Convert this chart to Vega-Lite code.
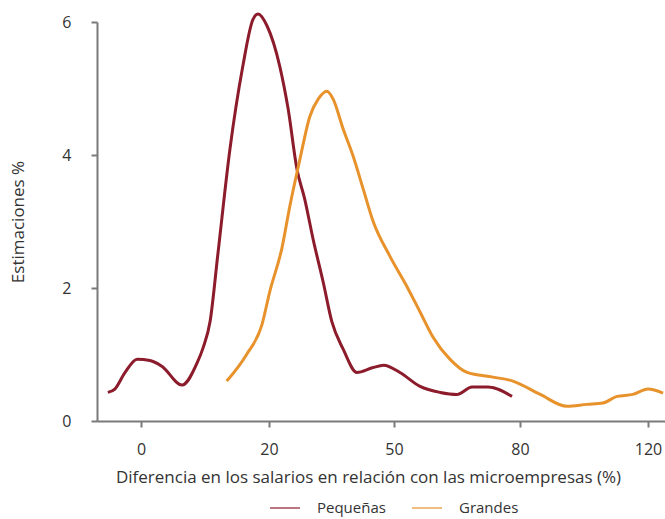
{
  "$schema": "https://vega.github.io/schema/vega-lite/v6.json",
  "width": 568,
  "height": 399,
  "autosize": {"type": "none"},
  "padding": {"left": 97, "top": 22, "right": 0, "bottom": 98},
  "background": "white",
  "config": {
    "view": {"stroke": null},
    "font": "Open Sans",
    "axis": {
      "grid": false,
      "domainColor": "#7a7a7a",
      "domainWidth": 2,
      "tickColor": "#7a7a7a",
      "tickWidth": 2,
      "tickSize": 6,
      "labelColor": "#333333",
      "labelFontSize": 16,
      "titleColor": "#333333",
      "titleFontSize": 17,
      "titleFontWeight": "normal"
    }
  },
  "data": {
    "values": [
      {"serie": "Pequeñas", "x": -5.2, "y": 0.43},
      {"serie": "Pequeñas", "x": -4.1, "y": 0.48},
      {"serie": "Pequeñas", "x": -2.5, "y": 0.73},
      {"serie": "Pequeñas", "x": -0.6, "y": 0.93},
      {"serie": "Pequeñas", "x": 1.4, "y": 0.91},
      {"serie": "Pequeñas", "x": 3.3, "y": 0.82},
      {"serie": "Pequeñas", "x": 6.4, "y": 0.54},
      {"serie": "Pequeñas", "x": 8.8, "y": 0.88},
      {"serie": "Pequeñas", "x": 9.7, "y": 1.1},
      {"serie": "Pequeñas", "x": 10.8, "y": 1.5},
      {"serie": "Pequeñas", "x": 12.0, "y": 2.5},
      {"serie": "Pequeñas", "x": 13.9, "y": 4.09},
      {"serie": "Pequeñas", "x": 15.9, "y": 5.33},
      {"serie": "Pequeñas", "x": 17.5, "y": 6.04},
      {"serie": "Pequeñas", "x": 18.3, "y": 6.12},
      {"serie": "Pequeñas", "x": 19.7, "y": 5.94},
      {"serie": "Pequeñas", "x": 22.6, "y": 5.33},
      {"serie": "Pequeñas", "x": 24.6, "y": 4.69},
      {"serie": "Pequeñas", "x": 26.7, "y": 3.79},
      {"serie": "Pequeñas", "x": 28.6, "y": 3.33},
      {"serie": "Pequeñas", "x": 30.6, "y": 2.73},
      {"serie": "Pequeñas", "x": 33.0, "y": 2.09},
      {"serie": "Pequeñas", "x": 35.1, "y": 1.49},
      {"serie": "Pequeñas", "x": 37.8, "y": 1.08},
      {"serie": "Pequeñas", "x": 41.1, "y": 0.73},
      {"serie": "Pequeñas", "x": 44.8, "y": 0.8},
      {"serie": "Pequeñas", "x": 47.5, "y": 0.84},
      {"serie": "Pequeñas", "x": 51.4, "y": 0.73},
      {"serie": "Pequeñas", "x": 56.2, "y": 0.52},
      {"serie": "Pequeñas", "x": 61.0, "y": 0.43},
      {"serie": "Pequeñas", "x": 65.0, "y": 0.4},
      {"serie": "Pequeñas", "x": 68.6, "y": 0.51},
      {"serie": "Pequeñas", "x": 72.4, "y": 0.51},
      {"serie": "Pequeñas", "x": 78.1, "y": 0.37},
      {"serie": "Grandes", "x": 13.4, "y": 0.6},
      {"serie": "Grandes", "x": 16.5, "y": 1.0},
      {"serie": "Grandes", "x": 18.9, "y": 1.45},
      {"serie": "Grandes", "x": 20.2, "y": 1.95},
      {"serie": "Grandes", "x": 23.1, "y": 2.6},
      {"serie": "Grandes", "x": 25.0, "y": 3.23},
      {"serie": "Grandes", "x": 27.4, "y": 3.93},
      {"serie": "Grandes", "x": 29.8, "y": 4.58},
      {"serie": "Grandes", "x": 31.8, "y": 4.84},
      {"serie": "Grandes", "x": 33.9, "y": 4.96},
      {"serie": "Grandes", "x": 35.4, "y": 4.84},
      {"serie": "Grandes", "x": 37.8, "y": 4.39},
      {"serie": "Grandes", "x": 40.2, "y": 3.98},
      {"serie": "Grandes", "x": 42.6, "y": 3.49},
      {"serie": "Grandes", "x": 45.0, "y": 3.0},
      {"serie": "Grandes", "x": 49.0, "y": 2.48},
      {"serie": "Grandes", "x": 53.1, "y": 2.02},
      {"serie": "Grandes", "x": 56.2, "y": 1.64},
      {"serie": "Grandes", "x": 59.3, "y": 1.26},
      {"serie": "Grandes", "x": 63.3, "y": 0.93},
      {"serie": "Grandes", "x": 67.4, "y": 0.73},
      {"serie": "Grandes", "x": 73.6, "y": 0.66},
      {"serie": "Grandes", "x": 78.3, "y": 0.6},
      {"serie": "Grandes", "x": 86.3, "y": 0.4},
      {"serie": "Grandes", "x": 94.7, "y": 0.22},
      {"serie": "Grandes", "x": 100.9, "y": 0.25},
      {"serie": "Grandes", "x": 105.9, "y": 0.27},
      {"serie": "Grandes", "x": 110.3, "y": 0.37},
      {"serie": "Grandes", "x": 115.3, "y": 0.4},
      {"serie": "Grandes", "x": 120.0, "y": 0.48},
      {"serie": "Grandes", "x": 124.7, "y": 0.42}
    ]
  },
  "mark": {"type": "line", "strokeWidth": 3, "interpolate": "monotone", "clip": false},
  "encoding": {
    "x": {
      "field": "x",
      "type": "quantitative",
      "scale": {
        "domain": [-6.9, 0, 20, 50, 80, 120, 125.3],
        "range": [0, 44, 172, 297, 423, 551, 568],
        "nice": false,
        "zero": false
      },
      "axis": {
        "values": [0, 20, 50, 80, 120],
        "labelPadding": 14,
        "titlePadding": 12,
        "titleX": 271,
        "title": "Diferencia en los salarios en relación con las microempresas (%)"
      }
    },
    "y": {
      "field": "y",
      "type": "quantitative",
      "scale": {"domain": [0, 6], "nice": false},
      "axis": {
        "values": [0, 2, 4, 6],
        "labelPadding": 20,
        "titlePadding": 34,
        "title": "Estimaciones %"
      }
    },
    "color": {
      "field": "serie",
      "type": "nominal",
      "scale": {"domain": ["Pequeñas", "Grandes"], "range": ["#8c1c2c", "#e8922c"]},
      "legend": {
        "title": null,
        "orient": "none",
        "legendX": 172,
        "legendY": 470,
        "direction": "horizontal",
        "symbolType": "stroke",
        "symbolSize": 900,
        "symbolStrokeWidth": 2,
        "symbolOpacity": 0.6,
        "labelFontSize": 15,
        "labelColor": "#333333",
        "labelOffset": 16,
        "columnPadding": 22
      }
    }
  }
}
